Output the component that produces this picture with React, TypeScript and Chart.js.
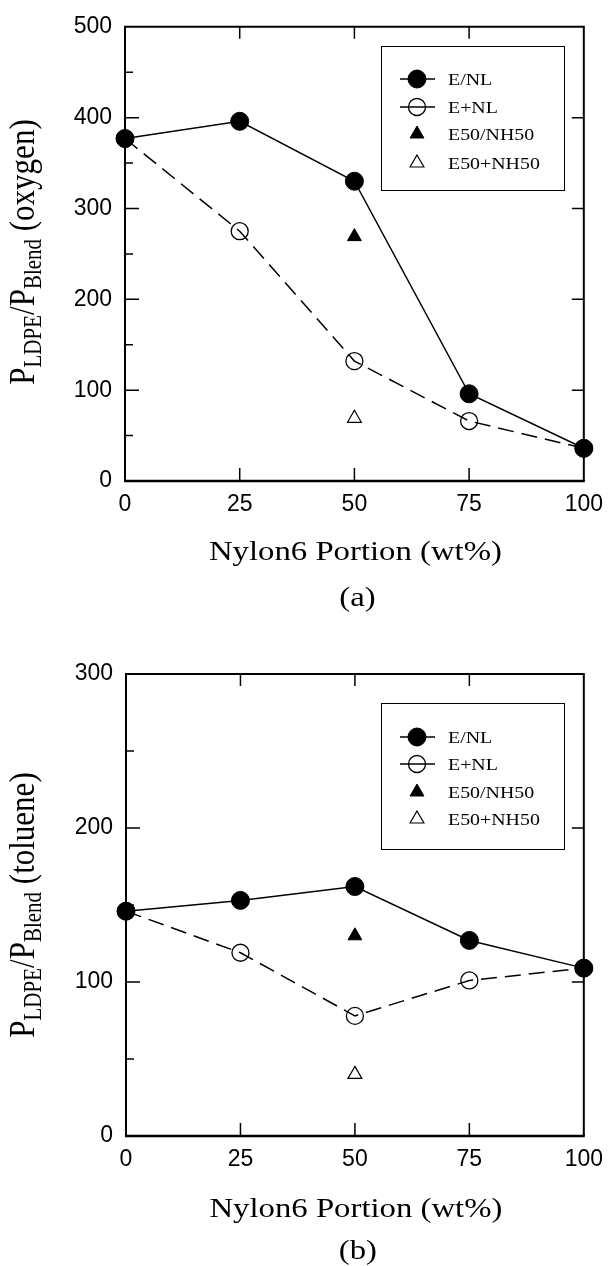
import React, { useEffect, useRef } from 'react';
import { Chart, registerables } from 'chart.js';

Chart.register(...registerables);

// ---------- data ----------
const nylonPortion = [0, 25, 50, 75, 100];
const triangleX = [50];
const seriesLabels = ['E/NL', 'E+NL', 'E50/NH50', 'E50+NH50'];

const oxygenENL = [377, 396, 330, 96, 36];
const oxygenEplusNL = [377, 275, 132, 66, 36];
const oxygenE50NH50 = [269];
const oxygenE50plusNH50 = [69];

const tolueneENL = [146, 153, 162, 127, 109];
const tolueneEplusNL = [146, 119, 78, 101, 109];
const tolueneE50NH50 = [130];
const tolueneE50plusNH50 = [40];

const xTickStep = 25;
const oxygenYMax = 500;
const tolueneYMax = 300;
const yTickStep = 100;
const yMinorStep = 50;

const xTitle = 'Nylon6 Portion (wt%)';

// ---------- layout ----------
const W = 613;
const H = 633;
const SX = 1.17;
const SERIF = "'Liberation Serif', 'Times New Roman', serif";
const SANS = "'Liberation Sans', Arial, sans-serif";

type Panel = {
  gas: string;
  tag: string;
  yMax: number;
  enl: number[];
  eplus: number[];
  tri: number[];
  triOpen: number[];
  area: { left: number; right: number; top: number; bottom: number };
  legend: { x: number; y: number; w: number; h: number; rows: number[] };
  yTitleCenter: number;
  xTitleY: number;
  tagY: number;
};

const panels: Panel[] = [
  {
    gas: 'oxygen', tag: '(a)', yMax: oxygenYMax,
    enl: oxygenENL, eplus: oxygenEplusNL, tri: oxygenE50NH50, triOpen: oxygenE50plusNH50,
    area: { left: 125, right: 589, top: 21, bottom: 481 },
    legend: { x: 381, y: 46, w: 183, h: 144, rows: [33, 61, 88, 117] },
    yTitleCenter: 252, xTitleY: 560, tagY: 606,
  },
  {
    gas: 'toluene', tag: '(b)', yMax: tolueneYMax,
    enl: tolueneENL, eplus: tolueneEplusNL, tri: tolueneE50NH50, triOpen: tolueneE50plusNH50,
    area: { left: 126, right: 589, top: 41, bottom: 503 },
    legend: { x: 381, y: 70, w: 183, h: 146, rows: [34, 61, 89, 116] },
    yTitleCenter: 272, xTitleY: 584, tagY: 626,
  },
];

function stretchedText(ctx: CanvasRenderingContext2D, text: string, x: number, y: number, font: string, align: 'left' | 'center') {
  ctx.save();
  ctx.font = font;
  ctx.fillStyle = '#000';
  ctx.textAlign = 'left';
  ctx.textBaseline = 'alphabetic';
  const w = ctx.measureText(text).width * SX;
  const x0 = align === 'center' ? x - w / 2 : x;
  ctx.translate(x0, y);
  ctx.scale(SX, 1);
  ctx.fillText(text, 0, 0);
  ctx.restore();
}

function drawMarker(ctx: CanvasRenderingContext2D, kind: string, x: number, y: number) {
  ctx.save();
  ctx.strokeStyle = '#000';
  ctx.fillStyle = '#000';
  ctx.beginPath();
  if (kind === 'circleFilled' || kind === 'circleOpen') {
    const r = kind === 'circleFilled' ? 9 : 8.5;
    ctx.arc(x, y, r, 0, Math.PI * 2);
    ctx.closePath();
    if (kind === 'circleFilled') { ctx.fill(); ctx.lineWidth = 1; } else { ctx.lineWidth = 1.3; }
    ctx.stroke();
  } else {
    const r = 8;
    let a = 0;
    ctx.moveTo(x + Math.sin(a) * r, y - Math.cos(a) * r);
    a += (2 * Math.PI) / 3;
    ctx.lineTo(x + Math.sin(a) * r, y - Math.cos(a) * r);
    a += (2 * Math.PI) / 3;
    ctx.lineTo(x + Math.sin(a) * r, y - Math.cos(a) * r);
    ctx.closePath();
    if (kind === 'triFilled') { ctx.fill(); ctx.lineWidth = 1; } else { ctx.lineWidth = 1.2; }
    ctx.stroke();
  }
  ctx.restore();
}

function makePlugin(p: Panel) {
  return {
    id: 'decor_' + p.gas,
    beforeDatasetsDraw(chart: any) {
      const ctx: CanvasRenderingContext2D = chart.ctx;
      const { left, right, top, bottom } = chart.chartArea;
      const xs = chart.scales.x;
      const ys = chart.scales.y;
      ctx.save();
      ctx.strokeStyle = '#000';
      // frame
      ctx.lineWidth = 2;
      ctx.beginPath();
      ctx.moveTo(left, bottom);
      ctx.lineTo(left, top);
      ctx.lineTo(right, top);
      ctx.lineTo(right, bottom);
      ctx.stroke();
      ctx.lineWidth = 2.5;
      ctx.beginPath();
      ctx.moveTo(left - 1, bottom);
      ctx.lineTo(right + 1, bottom);
      ctx.stroke();
      // ticks
      ctx.lineWidth = 1.5;
      ctx.beginPath();
      for (let v = yMinorStep; v < p.yMax; v += yMinorStep) {
        const py = ys.getPixelForValue(v);
        const major = v % yTickStep === 0;
        ctx.moveTo(left, py);
        ctx.lineTo(left + (major ? 14 : 8), py);
        if (major) {
          ctx.moveTo(right, py);
          ctx.lineTo(right - 12, py);
        }
      }
      for (let v = xTickStep; v < 100; v += xTickStep) {
        const px = xs.getPixelForValue(v);
        ctx.moveTo(px, bottom);
        ctx.lineTo(px, bottom - 13);
        ctx.moveTo(px, top);
        ctx.lineTo(px, top + 12);
      }
      ctx.stroke();
      ctx.restore();
    },
    afterDraw(chart: any) {
      const ctx: CanvasRenderingContext2D = chart.ctx;
      const { left, right } = chart.chartArea;
      const cx = (left + right) / 2 + 1;
      // x title and panel tag
      stretchedText(ctx, xTitle, cx, p.xTitleY, `28px ${SERIF}`, 'center');
      stretchedText(ctx, p.tag, cx + 2, p.tagY, `28px ${SERIF}`, 'center');

      // y title with subscripts
      const parts = [
        { t: 'P', sub: false },
        { t: 'LDPE', sub: true },
        { t: '/', sub: false },
        { t: 'P', sub: false },
        { t: 'Blend', sub: true },
        { t: ' (' + p.gas + ')', sub: false },
      ];
      const mainFont = `31px ${SERIF}`;
      const subFont = `21px ${SERIF}`;
      ctx.save();
      let total = 0;
      for (const part of parts) {
        ctx.font = part.sub ? subFont : mainFont;
        total += ctx.measureText(part.t).width;
      }
      ctx.translate(34, p.yTitleCenter + total / 2);
      ctx.scale(SX, 1);
      ctx.rotate(-Math.PI / 2);
      ctx.fillStyle = '#000';
      ctx.textAlign = 'left';
      ctx.textBaseline = 'alphabetic';
      let cur = 0;
      for (const part of parts) {
        ctx.font = part.sub ? subFont : mainFont;
        ctx.fillText(part.t, cur, part.sub ? 6 : 0);
        cur += ctx.measureText(part.t).width;
      }
      ctx.restore();

      // legend
      const L = p.legend;
      ctx.save();
      ctx.strokeStyle = '#000';
      ctx.lineWidth = 1;
      ctx.strokeRect(L.x + 0.5, L.y + 0.5, L.w, L.h);
      const kinds = ['circleFilled', 'circleOpen', 'triFilled', 'triOpen'];
      const mx = L.x + 36;
      for (let i = 0; i < 4; i++) {
        const ry = L.y + L.rows[i];
        if (i < 2) {
          ctx.lineWidth = 1.5;
          ctx.beginPath();
          ctx.moveTo(L.x + 19, ry);
          ctx.lineTo(L.x + 54, ry);
          ctx.stroke();
        }
        drawMarker(ctx, kinds[i], mx, ry);
        stretchedText(ctx, seriesLabels[i], L.x + 67, ry + 6, `17px ${SERIF}`, 'left');
      }
      ctx.restore();
    },
  };
}

function buildConfig(p: Panel): any {
  const pts = (xs: number[], ys: number[]) => xs.map((x, i) => ({ x, y: ys[i] }));
  return {
    type: 'scatter',
    data: {
      datasets: [
        {
          label: seriesLabels[0],
          data: pts(nylonPortion, p.enl),
          showLine: true,
          borderColor: '#000',
          borderWidth: 1.5,
          pointStyle: 'circle',
          pointRadius: 9,
          pointBorderWidth: 1,
          pointBackgroundColor: '#000',
          pointBorderColor: '#000',
          clip: false,
        },
        {
          label: seriesLabels[1],
          data: pts(nylonPortion, p.eplus),
          showLine: true,
          borderColor: '#000',
          borderWidth: 1.5,
          borderDash: [16, 8],
          pointStyle: 'circle',
          pointRadius: 8.5,
          pointBorderWidth: 1.3,
          pointBackgroundColor: 'rgba(0,0,0,0)',
          pointBorderColor: '#000',
          clip: false,
        },
        {
          label: seriesLabels[2],
          data: pts(triangleX, p.tri),
          showLine: false,
          pointStyle: 'triangle',
          pointRadius: 8,
          pointBorderWidth: 1,
          pointBackgroundColor: '#000',
          pointBorderColor: '#000',
          clip: false,
        },
        {
          label: seriesLabels[3],
          data: pts(triangleX, p.triOpen),
          showLine: false,
          pointStyle: 'triangle',
          pointRadius: 8,
          pointBorderWidth: 1.2,
          pointBackgroundColor: 'rgba(0,0,0,0)',
          pointBorderColor: '#000',
          clip: false,
        },
      ],
    },
    options: {
      responsive: false,
      animation: false,
      devicePixelRatio: 1,
      events: [],
      layout: { padding: { left: 0, top: p.area.top, right: W - p.area.right, bottom: 0 } },
      plugins: { legend: { display: false }, tooltip: { enabled: false }, title: { display: false } },
      scales: {
        x: {
          type: 'linear',
          min: 0,
          max: 100,
          grid: { display: false, drawTicks: false },
          border: { display: false },
          ticks: {
            stepSize: xTickStep,
            padding: 10,
            color: '#000',
            maxRotation: 0,
            autoSkip: false,
            font: { family: SANS, size: 23 },
          },
          afterFit: (s: any) => { s.height = H - p.area.bottom; },
        },
        y: {
          type: 'linear',
          min: 0,
          max: p.yMax,
          grid: { display: false, drawTicks: false },
          border: { display: false },
          ticks: {
            stepSize: yTickStep,
            padding: 13,
            color: '#000',
            font: { family: SANS, size: 23 },
          },
          afterFit: (s: any) => { s.width = p.area.left; },
        },
      },
    },
    plugins: [makePlugin(p)],
  };
}

function PanelChart({ panel, top }: { panel: Panel; top: number }) {
  const ref = useRef<HTMLCanvasElement | null>(null);
  useEffect(() => {
    if (!ref.current) return;
    const chart = new Chart(ref.current, buildConfig(panel));
    return () => chart.destroy();
  }, [panel]);
  return (
    <div style={{ position: 'absolute', left: 0, top, width: W, height: H }}>
      <canvas ref={ref} width={W} height={H} style={{ width: W, height: H, display: 'block' }} />
    </div>
  );
}

export default function App() {
  return (
    <div style={{ position: 'absolute', left: 0, top: 0, width: W, height: 2 * H, background: '#fff' }}>
      <PanelChart panel={panels[0]} top={0} />
      <PanelChart panel={panels[1]} top={H} />
    </div>
  );
}
